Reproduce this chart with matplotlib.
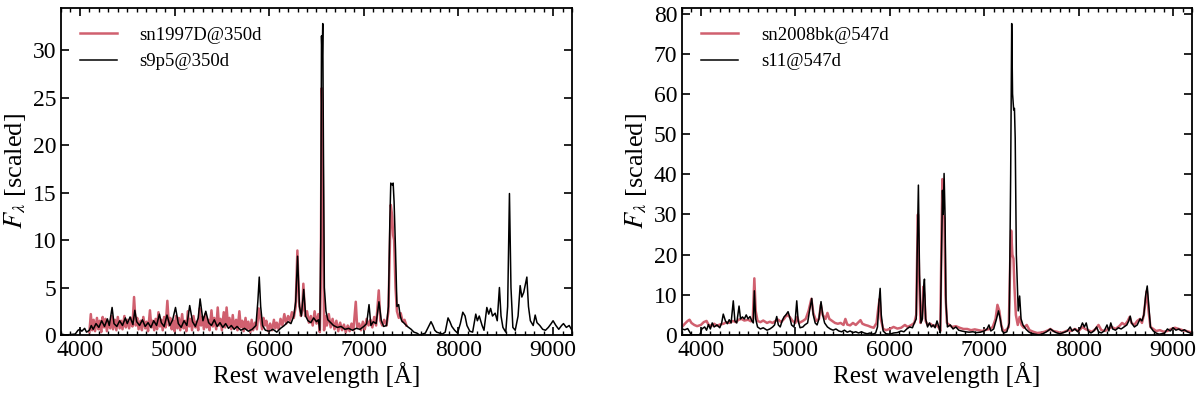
import numpy as np
import matplotlib
matplotlib.use("Agg")
import matplotlib.pyplot as plt
from matplotlib.ticker import MultipleLocator

plt.rcParams['font.family'] = ['Liberation Serif', 'DejaVu Serif']
plt.rcParams['mathtext.fontset'] = 'stix'

# left panel: SN 1997D vs s9p5 model at 350 d
wl_s9p5 = [3800, 3850, 3900, 3950, 3980, 4000, 4020, 4050, 4070, 4100, 4120, 4140, 4170, 4200, 4230, 4260, 4290, 4310,
           4340, 4360, 4390, 4420, 4450, 4480, 4500, 4530, 4560, 4580, 4600, 4630, 4660, 4690, 4720, 4750, 4780, 4810,
           4840, 4860, 4890, 4920, 4950, 4980, 5010, 5040, 5070, 5100, 5130, 5160, 5190, 5220, 5250, 5270, 5300, 5330,
           5360, 5390, 5420, 5450, 5480, 5510, 5540, 5570, 5600, 5630, 5660, 5700, 5740, 5780, 5820, 5860, 5880, 5895,
           5910, 5930, 5960, 6000, 6040, 6080, 6120, 6160, 6200, 6230, 6260, 6280, 6300, 6320, 6340, 6365, 6385, 6410,
           6440, 6470, 6500, 6520, 6535, 6545, 6553, 6560, 6566, 6573, 6583, 6600, 6620, 6650, 6680, 6720, 6760, 6800,
           6840, 6880, 6920, 6960, 7000, 7030, 7055, 7075, 7100, 7130, 7160, 7185, 7210, 7240, 7260, 7275, 7285, 7300,
           7310, 7320, 7335, 7350, 7368, 7385, 7400, 7430, 7460, 7500, 7530, 7560, 7590, 7620, 7650, 7680, 7710, 7730,
           7750, 7770, 7800, 7830, 7860, 7890, 7910, 7930, 7960, 7990, 8020, 8046, 8070, 8090, 8120, 8150, 8183, 8200,
           8220, 8250, 8270, 8300, 8320, 8340, 8360, 8388, 8410, 8433, 8450, 8470, 8500, 8520, 8539, 8555, 8575, 8600,
           8630, 8652, 8670, 8690, 8723, 8740, 8760, 8790, 8811, 8830, 8860, 8890, 8920, 8950, 8980, 9000, 9030, 9060,
           9090, 9110, 9140, 9170, 9200]
fl_s9p5 = [0.1, 0.0, 0.05, 0.1, 0.5, 0.6, 0.4, 0.7, 0.3, 0.5, 1.0, 0.6, 1.2, 0.8, 1.5, 0.9, 1.7, 1.0,
           2.9, 1.2, 0.9, 1.5, 1.0, 1.8, 1.2, 1.9, 1.1, 2.6, 1.4, 1.0, 1.6, 0.9, 1.3, 0.8, 1.5, 1.0,
           2.2, 1.3, 0.9, 2.1, 1.0, 1.6, 2.9, 1.2, 0.8, 1.5, 1.0, 3.1, 1.4, 0.9, 1.8, 3.8, 1.5, 2.5,
           1.3, 1.0, 1.6, 0.9, 1.3, 0.8, 1.2, 0.7, 1.0, 0.6, 0.9, 0.5, 0.7, 0.4, 0.6, 1.0, 3.5, 6.1,
           3.0, 1.0, 0.5, 0.4, 0.6, 0.3, 0.7, 1.0, 1.4, 1.2, 2.0, 3.5, 8.3, 3.0, 2.0, 4.8, 2.0, 1.5,
           1.3, 1.8, 1.4, 1.6, 0.5, 10.0, 31.5, 29.0, 32.8, 20.0, 5.0, 2.5, 1.6, 1.3, 1.0, 0.8, 0.9, 0.6,
           0.7, 0.5, 0.7, 0.6, 0.9, 1.2, 3.2, 1.0, 1.4, 1.2, 3.5, 1.5, 0.9, 1.0, 3.0, 12.0, 16.0, 15.8,
           16.0, 14.0, 9.0, 3.0, 3.2, 2.0, 1.5, 1.2, 0.9, 0.6, 0.3, 0.2, 0.0, 0.1, 0.2, 0.8, 1.4, 1.0,
           0.5, 0.3, 0.2, 0.1, 0.3, 1.8, 1.4, 0.9, 0.5, 0.2, 1.2, 2.4, 2.0, 1.0, 0.4, 0.3, 2.2, 1.5,
           2.0, 1.0, 0.5, 2.9, 2.2, 2.8, 2.0, 2.3, 1.5, 5.0, 2.0, 0.8, 0.3, 3.0, 14.9, 5.0, 0.8, 0.5,
           2.0, 5.2, 4.0, 4.5, 6.1, 3.0, 1.5, 1.0, 2.1, 1.3, 1.0, 0.6, 0.5, 0.8, 1.2, 1.5, 1.0, 0.6,
           1.0, 1.2, 0.8, 1.0, 0.5]

wl_97D = [4100, 4115, 4130, 4145, 4160, 4180, 4195, 4210, 4225, 4240, 4255, 4270, 4285, 4300, 4320, 4335, 4350, 4370,
          4385, 4400, 4420, 4435, 4450, 4470, 4485, 4500, 4520, 4540, 4555, 4572, 4590, 4605, 4620, 4640, 4655, 4670,
          4690, 4705, 4720, 4740, 4755, 4770, 4785, 4800, 4815, 4830, 4845, 4860, 4875, 4890, 4905, 4924, 4940, 4955,
          4970, 4985, 5000, 5015, 5030, 5045, 5060, 5080, 5095, 5110, 5125, 5140, 5155, 5170, 5185, 5200, 5220, 5235,
          5250, 5265, 5280, 5295, 5310, 5325, 5340, 5355, 5370, 5390, 5405, 5420, 5440, 5456, 5470, 5485, 5500, 5520,
          5535, 5550, 5565, 5580, 5600, 5615, 5630, 5650, 5665, 5685, 5700, 5715, 5730, 5750, 5765, 5780, 5800, 5815,
          5830, 5850, 5870, 5890, 5910, 5925, 5940, 5955, 5970, 5990, 6010, 6030, 6050, 6065, 6080, 6100, 6120, 6140,
          6160, 6180, 6200, 6220, 6240, 6260, 6280, 6298, 6315, 6335, 6350, 6361, 6380, 6400, 6420, 6440, 6460, 6480,
          6500, 6520, 6535, 6545, 6555, 6562, 6570, 6580, 6595, 6610, 6630, 6650, 6670, 6690, 6710, 6730, 6750, 6770,
          6790, 6810, 6830, 6850, 6870, 6890, 6915, 6930, 6950, 6970, 6990, 7010, 7030, 7050, 7070, 7090, 7110, 7130,
          7158, 7175, 7195, 7215, 7240, 7260, 7275, 7285, 7300, 7310, 7320, 7335, 7350, 7370, 7390, 7410, 7430, 7450]
fl_97D = [0.3, 2.2, 0.5, 1.6, 0.4, 1.8, 0.6, 1.5, 0.3, 1.9, 0.8, 1.7, 0.4, 1.4, 0.7, 2.0, 0.6, 1.6,
          0.5, 1.9, 0.7, 1.5, 0.6, 2.0, 0.8, 1.6, 0.7, 1.8, 0.9, 4.0, 1.0, 1.8, 0.6, 1.5, 0.5, 1.9,
          0.7, 1.4, 0.4, 2.6, 0.8, 1.5, 0.5, 1.7, 0.6, 2.4, 0.9, 1.6, 0.5, 1.9, 0.8, 3.6, 1.0, 1.8,
          0.6, 1.5, 0.4, 2.0, 0.7, 1.8, 0.5, 2.2, 0.7, 1.5, 0.4, 2.5, 0.9, 1.7, 0.5, 2.0, 0.8, 1.4,
          0.5, 2.8, 1.0, 1.9, 0.6, 2.2, 0.8, 1.6, 0.5, 2.6, 0.9, 1.8, 0.6, 2.9, 1.0, 1.7, 0.5, 2.4,
          0.8, 2.9, 1.0, 1.8, 0.6, 2.1, 0.7, 1.6, 0.5, 2.5, 0.8, 1.5, 0.4, 1.8, 0.6, 1.4, 0.3, 1.6,
          0.5, 1.3, 0.6, 2.8, 1.5, 0.6, 1.8, 1.0, 1.5, 0.4, 1.2, 0.5, 1.6, 0.7, 1.3, 0.6, 1.7, 1.0,
          2.2, 1.2, 2.0, 1.5, 2.4, 1.8, 3.0, 8.9, 3.5, 2.0, 2.6, 5.4, 2.0, 2.5, 1.3, 2.0, 1.0, 2.5,
          1.2, 2.2, 0.3, 5.0, 26.0, 24.0, 12.0, 0.5, 2.0, 1.0, 2.2, 0.8, 1.7, 0.6, 1.5, 0.4, 1.3, 0.5,
          1.1, 0.3, 1.0, 0.4, 1.2, 0.5, 3.5, 0.8, 1.2, 0.5, 1.4, 0.6, 1.7, 1.0, 1.6, 0.8, 1.9, 1.0,
          4.7, 1.5, 1.0, 1.6, 1.0, 2.5, 9.0, 13.7, 12.5, 10.5, 10.0, 5.0, 2.5, 1.8, 2.3, 1.4, 1.6, 1.0]

# right panel: SN 2008bk vs s11 model at 547 d
wl_s11 = [3800, 3830, 3860, 3880, 3900, 3950, 3990, 4010, 4040, 4060, 4080, 4100, 4120, 4140, 4170, 4200, 4220, 4237,
          4260, 4280, 4300, 4320, 4343, 4360, 4380, 4404, 4420, 4440, 4460, 4480, 4500, 4520, 4540, 4555, 4566, 4580,
          4600, 4630, 4660, 4700, 4730, 4760, 4780, 4803, 4820, 4840, 4860, 4880, 4900, 4923, 4940, 4960, 4985, 5000,
          5015, 5030, 5050, 5080, 5100, 5130, 5150, 5174, 5190, 5210, 5230, 5250, 5272, 5290, 5310, 5340, 5370, 5400,
          5430, 5460, 5490, 5520, 5550, 5580, 5610, 5640, 5670, 5700, 5730, 5760, 5790, 5820, 5850, 5870, 5885, 5898,
          5910, 5930, 5960, 6000, 6040, 6080, 6120, 6150, 6180, 6210, 6240, 6260, 6280, 6290, 6303, 6315, 6330, 6345,
          6360, 6367, 6380, 6400, 6420, 6440, 6460, 6480, 6500, 6520, 6535, 6548, 6558, 6566, 6575, 6585, 6595, 6610,
          6640, 6670, 6700, 6730, 6760, 6800, 6840, 6880, 6920, 6960, 7000, 7030, 7050, 7070, 7100, 7130, 7151, 7170,
          7190, 7210, 7240, 7265, 7280, 7291, 7300, 7312, 7320, 7328, 7340, 7360, 7375, 7390, 7410, 7440, 7470, 7500,
          7540, 7580, 7620, 7660, 7700, 7730, 7760, 7800, 7840, 7880, 7910, 7930, 7960, 7990, 8020, 8040, 8060, 8080,
          8100, 8130, 8160, 8190, 8210, 8240, 8270, 8300, 8320, 8340, 8360, 8390, 8420, 8450, 8480, 8510, 8530, 8546,
          8560, 8590, 8620, 8650, 8670, 8690, 8710, 8726, 8740, 8760, 8790, 8820, 8850, 8880, 8910, 8940, 8970, 9000,
          9030, 9060, 9090, 9120, 9150, 9180, 9200]
fl_s11 = [1.5, 1.3, 1.6, 0.8, 0.0, 0.0, 0.1, 1.5, 2.0, 1.2, 2.6, 1.5, 3.0, 2.0, 2.5, 1.8, 3.0, 5.2,
          3.5, 2.8, 3.8, 3.0, 8.5, 3.5, 3.0, 7.2, 4.0, 4.5, 4.0, 5.0, 4.0, 4.6, 3.5, 3.0, 11.0, 4.0,
          2.0, 1.5, 1.8, 1.2, 1.5, 2.0, 2.5, 4.6, 2.5, 2.0, 3.5, 4.5, 5.0, 5.8, 4.5, 2.5, 2.0, 4.0,
          8.5, 3.5, 1.8, 2.0, 2.5, 3.0, 6.0, 9.1, 5.0, 3.0, 2.5, 4.0, 8.3, 5.0, 3.0, 2.0, 1.5, 1.2,
          1.5, 1.0, 0.8, 1.2, 0.7, 1.0, 0.6, 0.8, 0.5, 0.8, 0.5, 0.3, 0.5, 0.2, 0.5, 2.0, 8.0, 11.6,
          5.0, 1.0, 0.3, 0.2, 0.5, 0.6, 1.0, 0.8, 1.5, 2.0, 1.8, 3.0, 4.0, 20.0, 37.3, 15.0, 3.0, 4.0,
          12.0, 13.9, 4.0, 2.0, 3.0, 2.0, 2.5, 1.8, 3.5, 2.0, 0.5, 20.0, 36.0, 30.0, 40.2, 30.0, 8.0, 2.0,
          2.5, 1.5, 2.0, 1.2, 1.0, 0.8, 0.7, 0.8, 0.6, 0.7, 1.0, 1.5, 2.5, 1.0, 1.5, 4.0, 6.0, 4.0,
          1.0, 0.5, 0.8, 3.0, 40.0, 77.5, 60.0, 56.0, 56.4, 49.0, 20.0, 6.0, 9.7, 4.0, 2.5, 1.5, 0.8, 0.4,
          0.2, 0.0, 0.3, 0.8, 1.5, 1.0, 0.6, 0.3, 0.6, 1.0, 2.0, 1.0, 1.5, 0.8, 1.8, 3.0, 2.0, 3.0,
          1.0, 0.5, 1.0, 2.0, 0.8, 0.5, 1.0, 2.5, 1.0, 3.0, 1.5, 1.2, 1.8, 1.5, 2.0, 2.5, 3.5, 4.7,
          3.0, 2.0, 2.5, 4.0, 3.5, 5.0, 10.0, 12.2, 8.0, 2.0, 1.0, 0.5, 0.2, 0.3, 0.5, 1.5, 1.0, 1.8,
          1.2, 1.5, 1.0, 1.3, 0.8, 0.5, 0.3]

wl_08bk = [3800, 3830, 3860, 3880, 3900, 3930, 3960, 4000, 4030, 4060, 4080, 4110, 4140, 4170, 4200, 4240, 4270, 4300,
           4340, 4370, 4400, 4430, 4460, 4500, 4530, 4550, 4566, 4580, 4600, 4630, 4660, 4700, 4730, 4760, 4790, 4820,
           4850, 4880, 4910, 4940, 4970, 5000, 5020, 5040, 5080, 5110, 5140, 5170, 5190, 5220, 5250, 5270, 5290, 5320,
           5340, 5360, 5390, 5420, 5450, 5480, 5510, 5530, 5550, 5580, 5610, 5640, 5670, 5690, 5710, 5740, 5770, 5800,
           5830, 5860, 5880, 5893, 5905, 5930, 5960, 6000, 6040, 6080, 6120, 6160, 6190, 6230, 6260, 6280, 6290, 6298,
           6310, 6325, 6340, 6355, 6365, 6380, 6400, 6430, 6460, 6490, 6520, 6535, 6548, 6557, 6566, 6578, 6590, 6605,
           6630, 6660, 6700, 6740, 6780, 6820, 6860, 6900, 6940, 6980, 7020, 7060, 7090, 7120, 7140, 7160, 7180, 7200,
           7230, 7260, 7275, 7285, 7298, 7310, 7320, 7335, 7355, 7375, 7395, 7420, 7450, 7480, 7520, 7560, 7600, 7640,
           7680, 7700, 7730, 7770, 7810, 7850, 7890, 7920, 7960, 8000, 8040, 8070, 8100, 8140, 8180, 8210, 8240, 8280,
           8310, 8350, 8390, 8430, 8460, 8490, 8520, 8540, 8560, 8590, 8620, 8650, 8670, 8690, 8710, 8722, 8740, 8760,
           8790, 8820, 8860, 8900, 8940, 8980, 9020, 9060, 9100, 9140, 9170, 9200]
fl_08bk = [2.0, 2.8, 3.5, 3.8, 3.0, 2.5, 2.2, 2.5, 3.2, 3.5, 2.6, 2.2, 2.8, 2.3, 2.6, 2.8, 3.2, 3.0,
           3.5, 3.2, 3.8, 4.0, 3.6, 3.8, 3.4, 4.0, 14.1, 6.0, 3.5, 3.2, 3.6, 3.0, 3.3, 3.0, 3.5, 3.8,
           3.2, 4.0, 5.0, 4.5, 3.5, 3.0, 4.5, 3.0, 3.5, 4.0, 6.0, 9.0, 5.5, 3.5, 4.0, 7.5, 5.0, 4.0,
           5.5, 4.0, 3.5, 3.0, 2.8, 3.0, 2.5, 4.0, 2.6, 2.4, 3.0, 2.5, 3.2, 3.7, 2.8, 2.5, 2.3, 2.0,
           1.8, 3.0, 7.0, 9.0, 4.0, 1.5, 1.2, 1.5, 2.0, 1.6, 1.8, 2.5, 2.0, 2.5, 3.0, 5.0, 20.0, 30.0,
           15.0, 3.0, 4.0, 12.0, 10.0, 3.5, 2.5, 2.8, 2.2, 2.5, 1.8, 1.0, 25.0, 38.8, 30.0, 29.0, 10.0, 3.0,
           2.5, 2.0, 2.2, 1.8, 1.5, 1.5, 1.2, 1.4, 1.2, 1.0, 1.3, 1.5, 2.0, 4.0, 7.5, 6.0, 2.5, 1.0,
           1.2, 2.0, 18.0, 26.0, 20.0, 19.0, 12.0, 5.0, 2.5, 4.5, 2.5, 1.8, 2.5, 1.2, 0.8, 0.5, 0.6, 0.8,
           1.2, 1.5, 1.0, 0.8, 0.5, 0.8, 1.2, 1.0, 1.5, 1.0, 2.0, 1.5, 1.2, 0.8, 1.5, 2.5, 1.2, 1.0,
           1.5, 2.0, 1.5, 2.2, 3.0, 2.5, 3.5, 4.5, 3.0, 2.5, 3.5, 4.0, 3.0, 5.0, 9.0, 11.0, 6.0, 2.0,
           1.5, 1.0, 1.2, 0.8, 1.0, 1.5, 1.8, 1.5, 1.2, 1.0, 0.8, 0.6]

red = '#d0606f'

fig = plt.figure(figsize=(12, 3.96), dpi=100)
ax1 = fig.add_axes([61/1200, 61/396, 511/1200, 327/396])
ax2 = fig.add_axes([682/1200, 61/396, 510/1200, 327/396])

panels = [
    (ax1, wl_97D, fl_97D, 'sn1997D@350d', wl_s9p5, fl_s9p5, 's9p5@350d', 5),
    (ax2, wl_08bk, fl_08bk, 'sn2008bk@547d', wl_s11, fl_s11, 's11@547d', 10),
]

for ax, wo, fo, lo, wm, fm, lm, ystep in panels:
    ax.plot(wo, fo, color=red, lw=1.8, label=lo)
    ax.plot(wm, fm, color='black', lw=1.1, label=lm)
    ymax = 1.05 * max(max(fo), max(fm))
    ax.set_xlim(3800, 9200)
    ax.set_ylim(0, ymax)
    ax.xaxis.set_major_locator(MultipleLocator(1000))
    ax.xaxis.set_minor_locator(MultipleLocator(100))
    ax.yaxis.set_major_locator(MultipleLocator(ystep))
    ax.tick_params(which='both', direction='in', top=True, right=True, labelsize=17)
    ax.tick_params(which='major', length=6, width=1.2)
    ax.tick_params(which='minor', length=3, width=1.0)
    for sp in ax.spines.values():
        sp.set_linewidth(1.3)
    ax.set_xlabel('Rest wavelength [Å]', fontsize=18, labelpad=1)
    ax.set_ylabel(r'$F_\lambda$ [scaled]', fontsize=19, labelpad=3)
    ax.legend(loc='upper left', frameon=False, fontsize=13.5, handlelength=2.0,
              borderaxespad=0.6, handletextpad=1.2)

fig.savefig('out.png', dpi=100)
